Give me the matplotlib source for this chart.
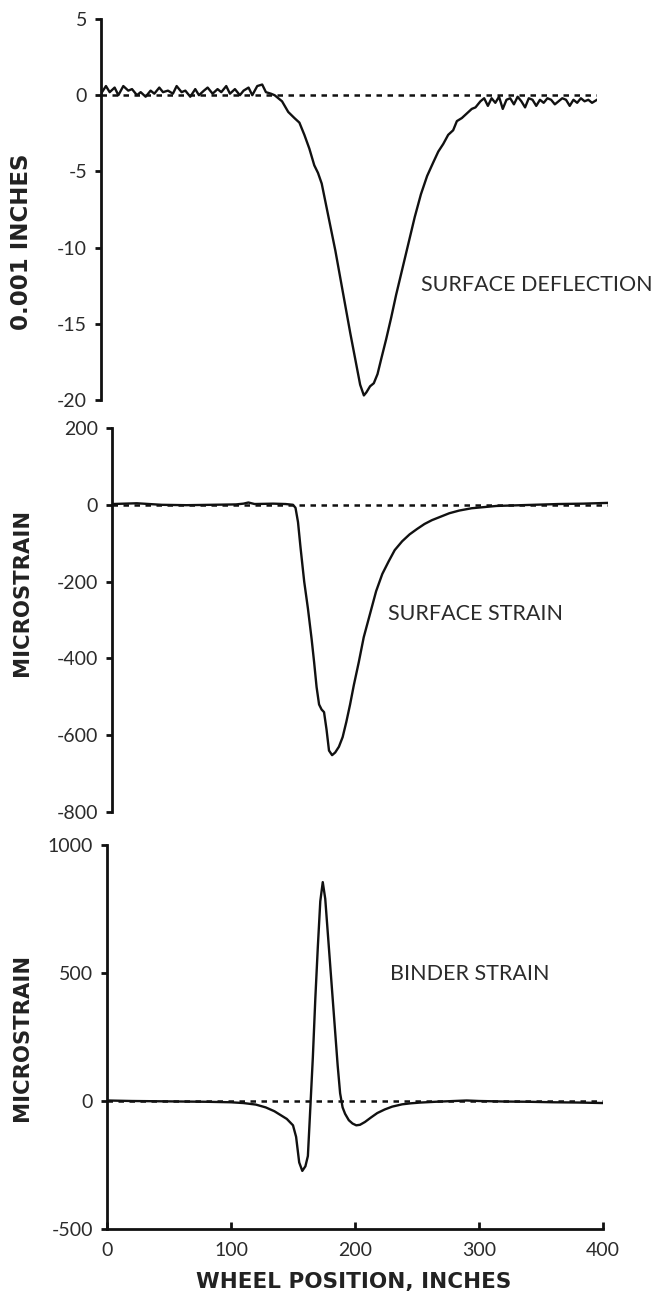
import numpy as np
import matplotlib
matplotlib.use('Agg')
import matplotlib.pyplot as plt

plt.rcParams['axes.unicode_minus'] = False

# surface deflection, 0.001 inches
defl_x = [0, 4, 7, 11, 14, 18, 22, 25, 29, 32, 36, 40, 43, 47, 50, 54, 58, 61, 65, 68,
          72, 76, 79, 83, 86, 90, 94, 97, 101, 104, 108, 112, 115, 119, 122, 126, 130, 133, 137,
          140, 146, 151, 156, 160, 164, 168, 172, 175, 178, 182, 186, 189, 193, 197,
          201, 205, 209, 212, 214, 217, 220, 223, 226, 230, 234, 238, 243, 248, 253,
          258, 263, 268, 272, 276, 280, 284, 287, 291, 295, 299, 302, 306, 309,
          312, 315, 318, 321, 324, 327, 330, 333, 336, 339, 342, 345, 348, 351, 354,
          357, 360, 363, 366, 369, 372, 375, 378, 381, 384, 387, 390, 393, 396, 400]
defl_y = [0.1, 0.6, 0.2, 0.5, 0.0, 0.6, 0.3, 0.4, 0.0, 0.2, -0.1, 0.3, 0.1, 0.5, 0.2, 0.3, 0.1, 0.6, 0.2, 0.3,
          -0.1, 0.4, 0.0, 0.3, 0.5, 0.1, 0.4, 0.2, 0.6, 0.1, 0.4, 0.0, 0.3, 0.5, 0.0, 0.6, 0.7, 0.2, 0.1,
          0.0, -0.4, -1.1, -1.5, -1.8, -2.6, -3.5, -4.6, -5.1, -5.8, -7.4, -9.0, -10.2, -12.0, -13.8,
          -15.6, -17.3, -19.0, -19.7, -19.5, -19.1, -18.9, -18.3, -17.3, -16.0, -14.6, -13.1, -11.4, -9.7, -8.0,
          -6.5, -5.3, -4.4, -3.7, -3.2, -2.6, -2.3, -1.7, -1.5, -1.2, -0.9, -0.8, -0.4, -0.2,
          -0.7, -0.2, -0.5, -0.1, -0.9, -0.3, -0.2, -0.6, -0.1, -0.4, -0.8, -0.2, -0.3, -0.7, -0.3,
          -0.5, -0.2, -0.3, -0.6, -0.4, -0.2, -0.3, -0.7, -0.3, -0.5, -0.2, -0.4, -0.3, -0.5, -0.3]

# surface strain, microstrain
surf_x = [0, 20, 40, 60, 80, 100, 106, 110, 115, 130, 140, 146, 148, 150, 152,
          155, 158, 161, 163, 165, 167, 169, 171, 173, 175, 177.5, 180, 183, 186, 189,
          192, 195, 199, 203, 208, 213, 218, 223, 228, 234, 240, 246, 252, 258, 265,
          272, 280, 290, 300, 310, 320, 340, 360, 380, 400]
surf_y = [2, 4, 0, -1, 0, 1, 3, 6, 2, 3, 2, 0, -8, -45, -110,
          -200, -270, -350, -410, -475, -520, -533, -540, -585, -640, -652, -645, -630, -605, -565,
          -520, -470, -410, -345, -285, -225, -180, -148, -118, -95, -77, -63, -50, -40, -31,
          -22, -15, -9, -6, -3, -2, 0, 2, 3, 5]

# binder strain, microstrain
bind_x = [0, 20, 40, 60, 80, 100, 110, 120, 128, 135, 140, 145, 150, 152.5, 155,
          157.5, 160, 162, 163.5, 166, 168, 170, 172, 174, 176, 178, 180, 182, 184, 186,
          188, 190, 192, 195, 198, 201, 204, 208, 213, 218, 224, 230, 238, 245, 253,
          265, 280, 290, 300, 320, 340, 360, 380, 400]
bind_y = [2, 0, -1, -2, -3, -5, -8, -14, -25, -40, -55, -70, -95, -140, -240,
          -273, -255, -215, -72, 170, 400, 600, 780, 855, 790, 660, 530, 400, 270, 140,
          30, -25, -50, -75, -88, -95, -93, -82, -64, -47, -33, -22, -13, -9, -6,
          -3, 0, 2, 0, -2, -3, -5, -6, -8]

panels = [
    # x, y, ylim, yticks, label text, label pos, axes rect (pixels: left, top, bottom)
    (defl_x, defl_y, (-20, 5), [5, 0, -5, -10, -15, -20], 'SURFACE DEFLECTION', (421, 285), (101, 19, 400)),
    (surf_x, surf_y, (-800, 200), [200, 0, -200, -400, -600, -800], 'SURFACE STRAIN', (388, 614), (112, 428, 812)),
    (bind_x, bind_y, (-500, 1000), [1000, 500, 0, -500], 'BINDER STRAIN', (390, 974), (107, 845, 1229)),
]
ylabels = [('0.001 INCHES', 242, 16.5), ('MICROSTRAIN', 592, 15.2), ('MICROSTRAIN', 1037, 15.2)]

W, H = 667, 1293
fig = plt.figure(figsize=(W / 100, H / 100), dpi=100)
tick_font = dict(family=['Lato', 'DejaVu Sans'], size=14, color='#2b2b2b')
ink = '#111111'

for i, (x, y, ylim, yticks, name, (tx, ty), (left, top, bottom)) in enumerate(panels):
    width = 496
    ax = fig.add_axes([left / W, 1 - bottom / H, width / W, (bottom - top) / H])
    ax.plot(x, y, color=ink, lw=1.7, solid_joinstyle='round')
    ax.axhline(0, color=ink, lw=1.8, linestyle=(0, (2.2, 2.2)), zorder=1)
    ax.set_xlim(0, 400)
    ax.set_ylim(*ylim)
    ax.set_yticks(yticks)
    for s in ['top', 'right']:
        ax.spines[s].set_visible(False)
    ax.spines['left'].set_linewidth(2)
    ax.spines['left'].set_color(ink)
    ax.tick_params(axis='y', direction='out', length=4, width=2, color=ink, pad=6)
    for lab in ax.get_yticklabels():
        lab.set(**tick_font)
    if i < 2:
        ax.spines['bottom'].set_visible(False)
        ax.set_xticks([])
    else:
        ax.spines['bottom'].set_linewidth(2)
        ax.spines['bottom'].set_color(ink)
        ax.set_xticks([0, 100, 200, 300, 400])
        ax.tick_params(axis='x', direction='in', length=5, width=2, color=ink, pad=9)
        for lab in ax.get_xticklabels():
            lab.set(**tick_font)
    ax.patch.set_visible(False)
    fig.text(tx / W, 1 - ty / H, name, ha='left', va='center',
             family=['Lato', 'DejaVu Sans'], size=15.5, color='#2b2b2b')

for text, cy, fs in ylabels:
    fig.text(22 / W, 1 - cy / H, text, rotation=90, ha='center', va='center',
             family='DejaVu Sans', weight='bold', size=fs, color='#222222')

fig.text(354 / W, 1 - 1282 / H, 'WHEEL POSITION, INCHES', ha='center', va='center',
         family='DejaVu Sans', weight='bold', size=15.5, color='#222222')

fig.savefig('out.png', dpi=100, facecolor='white')
